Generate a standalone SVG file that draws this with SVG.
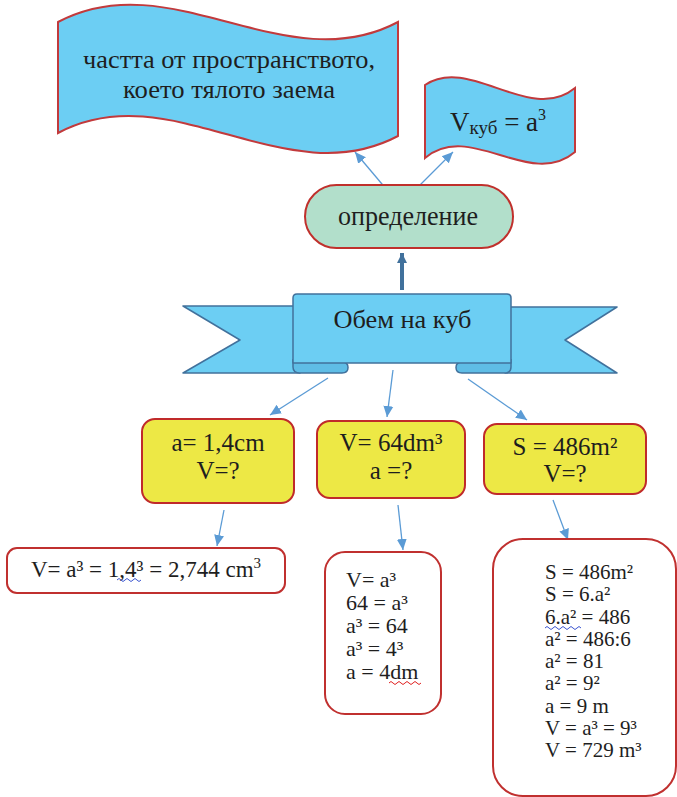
<svg xmlns="http://www.w3.org/2000/svg" width="677" height="797" viewBox="0 0 677 797">
<style>
  text { fill: #1e1e1e; }
  .flag { fill: #6ccef3; stroke: #c23a3c; stroke-width: 2; }
  .band { fill: #6ccef3; stroke: #41719c; stroke-width: 1.5; stroke-linejoin: round; }
  .fold { fill: #5fbde6; stroke: #41719c; stroke-width: 1.5; }
  .yellow { fill: #ede845; stroke: #c02a2a; stroke-width: 2; }
  .ans { fill: #ffffff; stroke: #c0302f; stroke-width: 2; }
  .con { stroke: #5b9bd5; stroke-width: 1.3; fill: none; }
  .wavyb { stroke: #3b55d0; stroke-width: 1; fill: none; }
  .wavyr { stroke: #e02020; stroke-width: 1; fill: none; }
</style>
<defs>
  <marker id="ah" markerUnits="userSpaceOnUse" markerWidth="12" markerHeight="12" viewBox="0 0 12 12" refX="11" refY="6" orient="auto">
    <path d="M0,1 L11,6 L0,11 Z" fill="#5b9bd5"/>
  </marker>
  <marker id="ahThick" markerUnits="userSpaceOnUse" markerWidth="12" markerHeight="12" viewBox="0 0 12 12" refX="10" refY="6" orient="auto">
    <path d="M0,1 L10,6 L0,11 Z" fill="#41719c"/>
  </marker>
</defs>

<g id="connectors">
  <line class="con" x1="387" y1="190" x2="355" y2="152" marker-end="url(#ah)"/>
  <line class="con" x1="415" y1="190" x2="453" y2="152" marker-end="url(#ah)"/>
  <line x1="402" y1="290" x2="402" y2="253" stroke="#41719c" stroke-width="4" marker-end="url(#ahThick)"/>
  <line class="con" x1="328" y1="378" x2="270" y2="415" marker-end="url(#ah)"/>
  <line class="con" x1="393" y1="370" x2="387" y2="417" marker-end="url(#ah)"/>
  <line class="con" x1="468" y1="379" x2="527" y2="420" marker-end="url(#ah)"/>
  <line class="con" x1="224" y1="510" x2="217" y2="546" marker-end="url(#ah)"/>
  <line class="con" x1="398" y1="505" x2="403" y2="550" marker-end="url(#ah)"/>
  <line class="con" x1="553" y1="500" x2="568" y2="540" marker-end="url(#ah)"/>
</g>

<g font-family="'Liberation Serif', serif">
<g id="flag-definition-text">
  <path class="flag" d="M58,22 C171,-38 285,82 398,22 L398,136 C285,196 171,73 58,133 Z"/>
  <text x="229" y="68" font-size="25" text-anchor="middle" textLength="292" lengthAdjust="spacingAndGlyphs">частта от пространството,</text>
  <text x="229" y="98" font-size="25" text-anchor="middle" textLength="212" lengthAdjust="spacingAndGlyphs">което тялото заема</text>
</g>

<g id="flag-formula">
  <path class="flag" stroke="#e0282f" d="M425,85 C470,55 530,125 575,88 L575,152 C530,190 470,120 425,158 Z"/>
  <text x="450" y="131" font-size="27">V<tspan font-size="19" dy="3">куб</tspan><tspan dy="-3"> = a</tspan><tspan font-size="16" dy="-11">3</tspan></text>
</g>

<g id="definition">
  <rect x="305" y="185" width="208" height="63" rx="31.5" fill="#b2dfcb" stroke="#c0302c" stroke-width="2"/>
  <text x="408" y="225" font-size="27" text-anchor="middle" textLength="140" lengthAdjust="spacingAndGlyphs">определение</text>
</g>

<g id="banner">
  <polygon class="band" points="183,306 300,306 300,373 183,373 240,340"/>
  <polygon class="band" points="617,307 505,307 505,373 617,373 565,340"/>
  <path class="fold" d="M293,360 L293,367 Q293,373 300,373 L342,373 Q348,373 348,367.5 Q348,362 342,362 L300,362 Z"/>
  <path class="fold" d="M511,360 L511,367 Q511,373 504,373 L462,373 Q456,373 456,367.5 Q456,362 462,362 L504,362 Z"/>
  <path class="band" d="M297,294 L507,294 Q511,294 511,298 L511,363 L293,363 L293,298 Q293,294 297,294 Z"/>
  <text x="402.5" y="328" font-size="26" text-anchor="middle" textLength="138" lengthAdjust="spacingAndGlyphs">Обем на куб</text>
</g>

<g id="given-1">
  <rect class="yellow" x="142" y="419" width="152" height="84" rx="13"/>
  <text x="218" y="451" font-size="25" text-anchor="middle">a= 1,4cm</text>
  <text x="218" y="479" font-size="25" text-anchor="middle">V=?</text>
</g>

<g id="given-2">
  <rect class="yellow" x="317" y="421" width="148" height="77" rx="13"/>
  <text x="391" y="451" font-size="25" text-anchor="middle">V= 64dm³</text>
  <text x="391" y="479" font-size="25" text-anchor="middle">a =?</text>
</g>

<g id="given-3">
  <rect class="yellow" x="484" y="424" width="162" height="70" rx="13"/>
  <text x="565" y="455" font-size="25" text-anchor="middle">S = 486m²</text>
  <text x="565" y="482" font-size="25" text-anchor="middle">V=?</text>
</g>

<g id="solution-1">
  <rect class="ans" x="7" y="548" width="278" height="45" rx="10"/>
  <text x="146" y="577" font-size="23" text-anchor="middle">V= a³ = 1,4³ = 2,744 cm<tspan font-size="15" dy="-9">3</tspan></text>
  <path class="wavyb" d="M117,580 q2,-3 4,0 t4,0 t4,0 t4,0 t4,0 t4,0"/>
</g>

<g id="solution-2">
  <rect class="ans" x="325" y="552" width="116" height="162" rx="20"/>
  <text x="346" y="587" font-size="22">V= a³</text>
  <text x="346" y="610" font-size="22">64 = a³</text>
  <text x="346" y="633" font-size="22">a³ = 64</text>
  <text x="346" y="656" font-size="22">a³ = 4³</text>
  <text x="346" y="679" font-size="22">a = 4dm</text>
  <path class="wavyr" d="M389,683 q2,-3 4,0 t4,0 t4,0 t4,0 t4,0 t4,0 t4,0 t4,0"/>
</g>

<g id="solution-3">
  <rect class="ans" x="493" y="539" width="183" height="257" rx="30"/>
  <text x="545" y="579" font-size="21">S = 486m²</text>
  <text x="545" y="601" font-size="21">S = 6.a²</text>
  <text x="545" y="624" font-size="21">6.a² = 486</text>
  <text x="545" y="646" font-size="21">a² = 486:6</text>
  <text x="545" y="668" font-size="21">a² = 81</text>
  <text x="545" y="690" font-size="21">a² = 9²</text>
  <text x="545" y="713" font-size="21">a = 9 m</text>
  <text x="545" y="735" font-size="21">V = a³ = 9³</text>
  <text x="545" y="757" font-size="21">V = 729 m³</text>
  <path class="wavyb" d="M545,628 q2,-3 4,0 t4,0 t4,0 t4,0 t4,0 t4,0 t4,0 t4,0 t4,0"/>
</g>
</g>
</svg>
